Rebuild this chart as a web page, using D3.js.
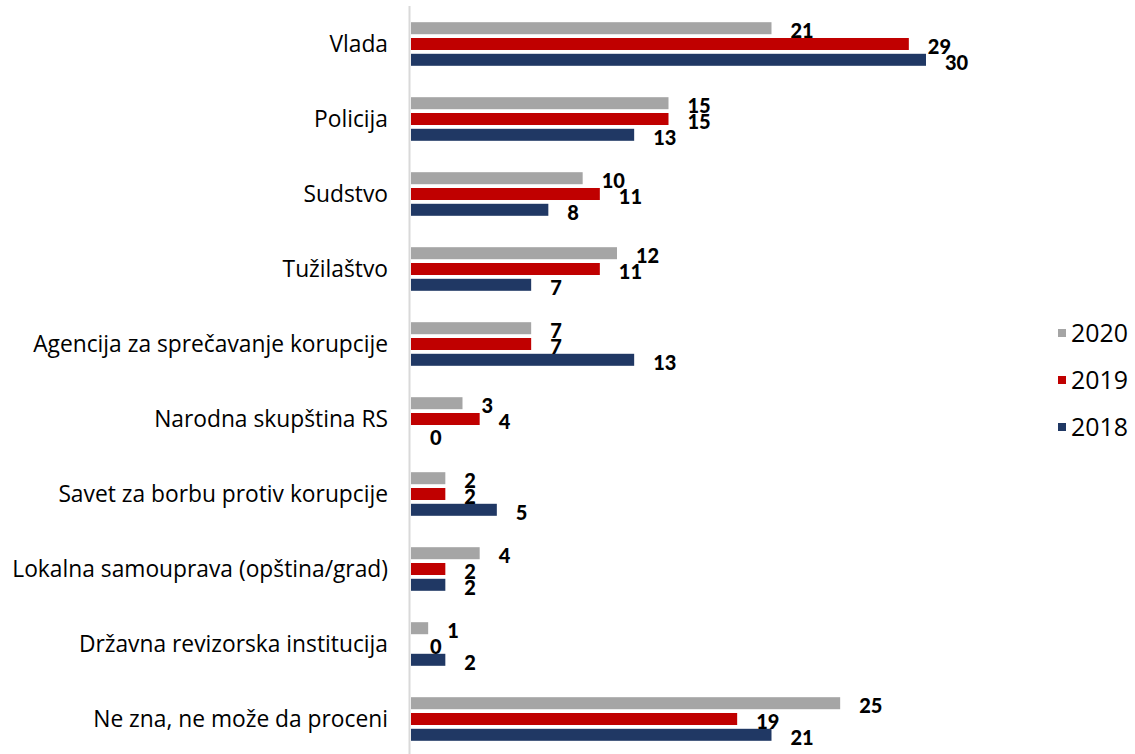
<!DOCTYPE html>
<html>
<head>
<meta charset="utf-8">
<script src="https://cdn.jsdelivr.net/npm/d3@7"></script>
<style>
  body { margin: 0; background: #fff; }
  svg { display: block; }
  .cat { font-family: "Open Sans", sans-serif; font-size: 22px; fill: #000; }
  .val { font-family: Lato, sans-serif; font-weight: 900; font-size: 20px; fill: #000; }
  .leg { font-family: "Open Sans", sans-serif; font-size: 22px; fill: #000; }
</style>
</head>
<body>
<svg id="chart" width="1135" height="754"></svg>
<script>
// categories, top to bottom
const categories = [
  'Vlada',
  'Policija',
  'Sudstvo',
  'Tužilaštvo',
  'Agencija za sprečavanje korupcije',
  'Narodna skupština RS',
  'Savet za borbu protiv korupcije',
  'Lokalna samouprava (opština/grad)',
  'Državna revizorska institucija',
  'Ne zna, ne može da proceni'
];

const years = ['2020', '2019', '2018'];
const colors = ['#a5a5a5', '#c00000', '#203864'];

const values2020 = [21, 15, 10, 12, 7, 3, 2, 4, 1, 25];
const values2019 = [29, 15, 11, 11, 7, 4, 2, 2, 0, 19];
const values2018 = [30, 13, 8, 7, 13, 0, 5, 2, 2, 21];

const seriesValues = [values2020, values2019, values2018];

const svg = d3.select('#chart');

const x = d3.scaleLinear()
  .domain([0, 30])
  .range([411, 926]);

const y0 = d3.scaleBand()
  .domain(categories)
  .range([6.5, 756.5]);

const y1 = d3.scaleBand()
  .domain(years)
  .range([-21.8, 21.8])
  .paddingInner(0.24);

// vertical axis line
svg.append('line')
  .attr('x1', 409.5).attr('x2', 409.5)
  .attr('y1', 6).attr('y2', 754)
  .attr('stroke', '#d9d9d9')
  .attr('stroke-width', 2);

// category labels
const catLabels = svg.append('g')
  .selectAll('text')
  .data(categories)
  .join('text')
  .attr('class', 'cat')
  .attr('x', 388)
  .attr('y', d => y0(d) + y0.bandwidth() / 2)
  .attr('dy', '0.35em')
  .attr('text-anchor', 'end')
  .text(d => d);

// fit the longest label to the width it has in the original (x 12..388)
let widest = 0;
catLabels.each(function () { widest = Math.max(widest, this.getComputedTextLength()); });
const catSize = 22 * 376 / widest;
catLabels.style('font-size', catSize + 'px');

const rows = [];
categories.forEach((c, i) => {
  years.forEach((yr, j) => {
    rows.push({ cat: c, year: yr, value: seriesValues[j][i], color: colors[j] });
  });
});

const centerY = d => y0(d.cat) + y0.bandwidth() / 2 + y1(d.year);

svg.append('g')
  .selectAll('rect')
  .data(rows)
  .join('rect')
  .attr('x', x(0))
  .attr('y', centerY)
  .attr('width', d => x(d.value) - x(0))
  .attr('height', y1.bandwidth())
  .attr('fill', d => d.color);

svg.append('g')
  .selectAll('text')
  .data(rows)
  .join('text')
  .attr('class', 'val')
  .attr('x', d => x(d.value) + 19)
  .attr('y', d => centerY(d) + y1.bandwidth() / 2 + 3)
  .attr('dy', '0.35em')
  .text(d => d.value);

// legend
const legend = svg.append('g')
  .selectAll('g')
  .data(years)
  .join('g')
  .attr('transform', (d, i) => `translate(1058, ${333 + i * 47})`);

legend.append('rect')
  .attr('x', 0).attr('y', -4)
  .attr('width', 8).attr('height', 8)
  .attr('fill', (d, i) => colors[i]);

const legText = legend.append('text')
  .attr('class', 'leg')
  .attr('x', 13)
  .attr('y', 0)
  .attr('dy', '0.35em')
  .text(d => d);

const legW = legText.node().getComputedTextLength();
legText.style('font-size', (22 * 57 / legW) + 'px');
</script>
</body>
</html>
